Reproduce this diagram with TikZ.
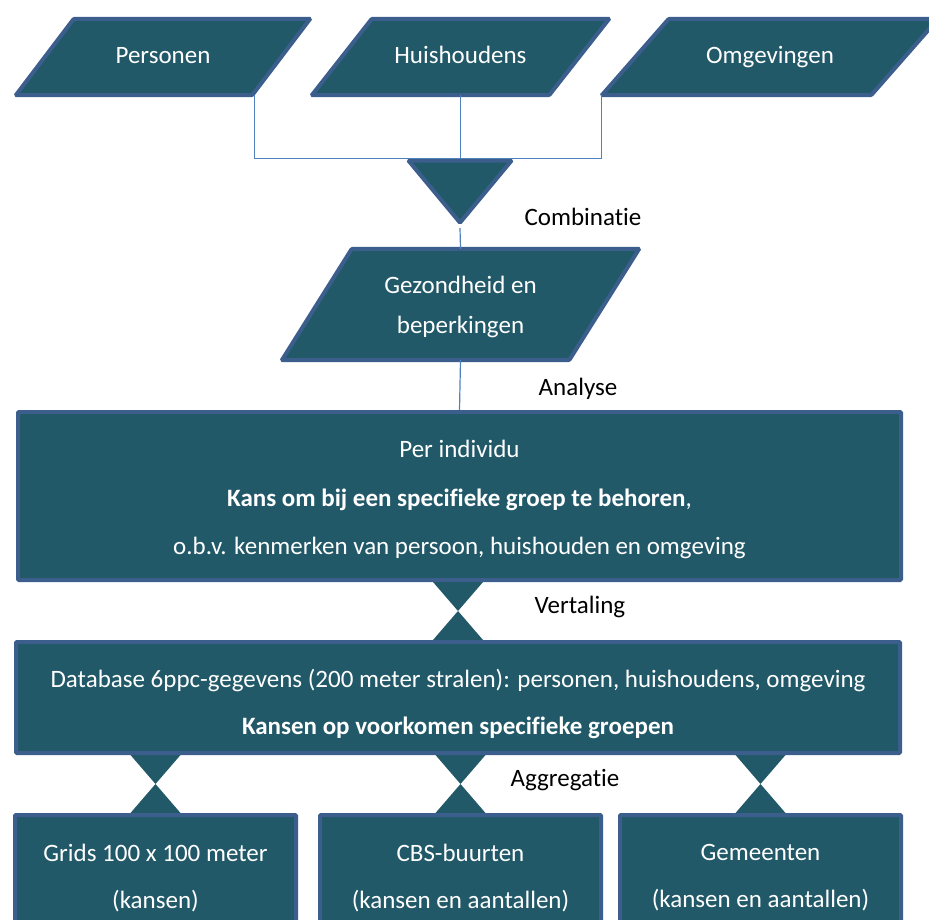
\documentclass[tikz,border=0pt]{standalone}
\usepackage{fontspec}
\setmainfont{Carlito}[Ligatures=NoCommon]
\usetikzlibrary{shapes.geometric,calc,backgrounds}
\definecolor{boxfill}{HTML}{215968}
\definecolor{boxline}{HTML}{3B5E8D}
\definecolor{linkline}{HTML}{4F81BD}

\begin{document}
\begin{tikzpicture}[x=1pt,y=-1pt,
        every node/.style={font=\fontsize{25}{30}\selectfont},
        blok/.style={draw=boxline,fill=boxfill,line width=4pt,rounded corners=1pt,text=white,align=center},
        invoer/.style={text=white,align=center,inner sep=0pt,minimum height=76,text height=18,text depth=5},
        vak/.style={blok,rectangle,inner sep=0pt},
        link/.style={draw=linkline,line width=1.2pt},
        stap/.style={text=black}]
    \clip (0,0) rectangle (929,920);

    % bronnen (tekstvlak, scheve rand volgt hieronder)
    \node[invoer,minimum width=236] (pers) at (163,57) {Personen};
    \node[invoer,minimum width=237] (huis) at (460.5,57) {Huishoudens};
    \node[invoer,minimum width=269] (omg) at (770,57) {Omgevingen};

    \node[blok,isosceles triangle,shape border rotate=270,isosceles triangle stretches,
        minimum width=103,minimum height=62] (comb) at (460,184) {};

    \node[invoer,minimum width=287,minimum height=111,text height=,text depth=,
        font=\fontsize{25}{40}\selectfont] (gez) at (460.5,304.5) {\rule{0pt}{22pt}Gezondheid en\\beperkingen};

    % modellen
    \node[vak,minimum width=883,minimum height=168,font=\fontsize{25}{48.5}\selectfont] (indiv) at (459.5,496)
        {\rule{0pt}{25pt}Per individu\\\textbf{Kans om bij een specifieke groep te behoren},\\o.b.v. kenmerken van persoon, huishouden en omgeving};
    \node[vak,minimum width=884,minimum height=111,font=\fontsize{25}{47}\selectfont] (db) at (458,697.5)
        {\rule{0pt}{31pt}Database 6ppc-gegevens (200 meter stralen): personen, huishoudens, omgeving\\\textbf{Kansen op voorkomen specifieke groepen}};

    % uitvoer
    \node[vak,minimum width=281,minimum height=126,font=\fontsize{25}{47}\selectfont] (grid) at (155.5,878) {Grids 100 x 100 meter\\(kansen)};
    \node[vak,minimum width=281,minimum height=126,font=\fontsize{25}{47}\selectfont] (buurt) at (460.5,878) {CBS-buurten\\(kansen en aantallen)};
    \node[vak,minimum width=281,minimum height=126,font=\fontsize{25}{47}\selectfont] (gem) at (760.5,878) {Gemeenten\\(kansen en aantallen)};

    \begin{scope}[on background layer]
        % parallellogrammen om de invoervlakken
        \foreach \n/\s in {pers/29,huis/30,omg/33.5,gez/35} {
            \draw[blok] ($(\n.south west)+(-\s,0)$) coordinate (\n-bl) -- ($(\n.north west)+(\s,0)$)
                -- ($(\n.north east)+(\s,0)$) -- ($(\n.south east)+(-\s,0)$) coordinate (\n-br) -- cycle;
        }
        % sluitstukken tussen de vakken
        \foreach \van/\naar in {indiv/db,db/grid,db/buurt,db/gem} {
            \coordinate (boven) at (\van.south -| \naar.north);
            \coordinate (midden) at ($(boven)!.5!(\naar.north)$);
            \fill[boxfill] ($(boven)+(-25,0)$) -- ($(boven)+(25,0)$) -- (midden)
                -- ($(\naar.north)+(25,0)$) -- ($(\naar.north)+(-25,0)$) -- (midden) -- cycle;
        }
    \end{scope}

    % verbindingen
    \draw[link] ($(pers-br)+(2,0)$) |- (comb.lower side) -| (omg-bl);
    \draw[link] (huis.south) -- (huis.south |- comb.lower side);
    \draw[link] (comb.apex) -- (gez.north);
    \draw[link] (gez.south) -- (indiv.north);

    \node[stap] (combtxt) at (583,217) {Combinatie};
    \node[stap] (analyse) at (578,389) {Analyse};
    \node[stap] (vertaling) at (580,607) {Vertaling};
    \node[stap] (aggregatie) at (565,780) {Aggregatie};
\end{tikzpicture}
\end{document}
